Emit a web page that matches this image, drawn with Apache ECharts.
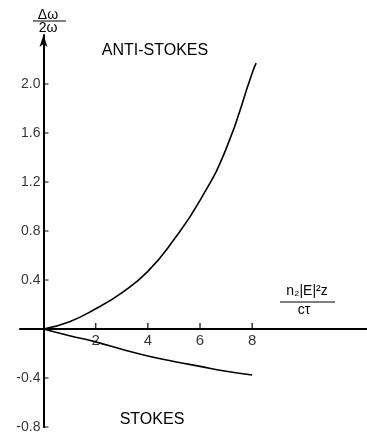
<!DOCTYPE html>
<html><head><meta charset="utf-8">
<script src="https://cdn.jsdelivr.net/npm/echarts@6/dist/echarts.min.js"></script>
<style>html,body{margin:0;padding:0;background:#fff}#c{width:367px;height:439px}</style>
</head><body><div id="c"></div>
<script>
const xTicks = [2, 4, 6, 8];
const yTicks = [-0.8, -0.4, 0.4, 0.8, 1.2, 1.6, 2.0];
const antiX = [0, 1, 2, 3, 4, 5, 6, 7, 8, 8.15];
const antiY = [0, 0.06, 0.165, 0.295, 0.47, 0.73, 1.05, 1.47, 2.09, 2.17];
const stokesX = [0, 1, 2, 3, 4, 5, 6, 7, 8];
const stokesY = [0, -0.055, -0.105, -0.165, -0.22, -0.265, -0.305, -0.345, -0.375];
const yName = ['Δω', '2ω'];
const xName = ['n₂|E|²z', 'cτ'];
const annotations = ['ANTI-STOKES', 'STOKES'];

const FONT = '"Liberation Sans", Arial, sans-serif';
const chart = echarts.init(document.getElementById('c'), null, {renderer: 'canvas'});
chart.setOption({
  animation: false,
  backgroundColor: '#fff',
  grid: {left: 20, right: 0, top: 35, bottom: 12, containLabel: false, outerBoundsMode: 'none'},
  xAxis: {
    type: 'value', min: -0.9, max: 12.4,
    axisLine: {show: true, onZero: true, lineStyle: {color: '#000', width: 2}},
    axisTick: {show: false},
    axisLabel: {show: false},
    splitLine: {show: false}
  },
  yAxis: {
    type: 'value', min: -0.8, max: 2.4,
    axisLine: {show: true, onZero: true, symbol: ['none', 'arrow'], symbolSize: [6, 12], lineStyle: {color: '#000', width: 2}},
    axisTick: {show: false},
    axisLabel: {show: false},
    splitLine: {show: false}
  },
  series: [
    {type: 'line', data: antiX.map((x, i) => [x, antiY[i]]), showSymbol: false, smooth: 0.5,
      lineStyle: {color: '#000', width: 1.6}, z: 3},
    {type: 'line', data: stokesX.map((x, i) => [x, stokesY[i]]), showSymbol: false, smooth: 0.5,
      lineStyle: {color: '#000', width: 1.6}, z: 3},
    {type: 'scatter', data: xTicks.map(v => [v, 0]), symbol: 'rect', symbolSize: [1.5, 6], symbolOffset: [0, -3],
      itemStyle: {color: '#000'}, silent: true, clip: false,
      label: {show: true, position: 'bottom', distance: 4, color: '#000', fontSize: 15, fontFamily: FONT,
        formatter: p => String(p.value[0])}},
    {type: 'scatter', data: yTicks.map(v => [0, v]), symbol: 'rect', symbolSize: [5, 1.2], symbolOffset: [2.5, 0],
      itemStyle: {color: '#000'}, silent: true, clip: false,
      label: {show: true, position: 'left', distance: 3, color: '#000', fontSize: 14, fontFamily: FONT,
        formatter: p => p.value[1].toFixed(1)}}
  ],
  graphic: [
    {type: 'text', x: 48, y: 15, style: {text: yName[0], font: '14px ' + FONT, fill: '#000', align: 'center', verticalAlign: 'middle'}},
    {type: 'line', shape: {x1: 33, y1: 21, x2: 66, y2: 21}, style: {stroke: '#000', lineWidth: 1.2}},
    {type: 'text', x: 48, y: 28, style: {text: yName[1], font: '14px ' + FONT, fill: '#000', align: 'center', verticalAlign: 'middle'}},
    {type: 'text', x: 307, y: 291, style: {text: xName[0], font: '14px ' + FONT, fill: '#000', align: 'center', verticalAlign: 'middle'}},
    {type: 'line', shape: {x1: 280, y1: 302, x2: 335, y2: 302}, style: {stroke: '#000', lineWidth: 1.2}},
    {type: 'text', x: 304, y: 310, style: {text: xName[1], font: '14px ' + FONT, fill: '#000', align: 'center', verticalAlign: 'middle'}},
    {type: 'text', x: 155, y: 51, style: {text: annotations[0], font: '16px ' + FONT, fill: '#000', align: 'center', verticalAlign: 'middle'}},
    {type: 'text', x: 152, y: 420, style: {text: annotations[1], font: '16px ' + FONT, fill: '#000', align: 'center', verticalAlign: 'middle'}}
  ]
});
</script></body></html>
